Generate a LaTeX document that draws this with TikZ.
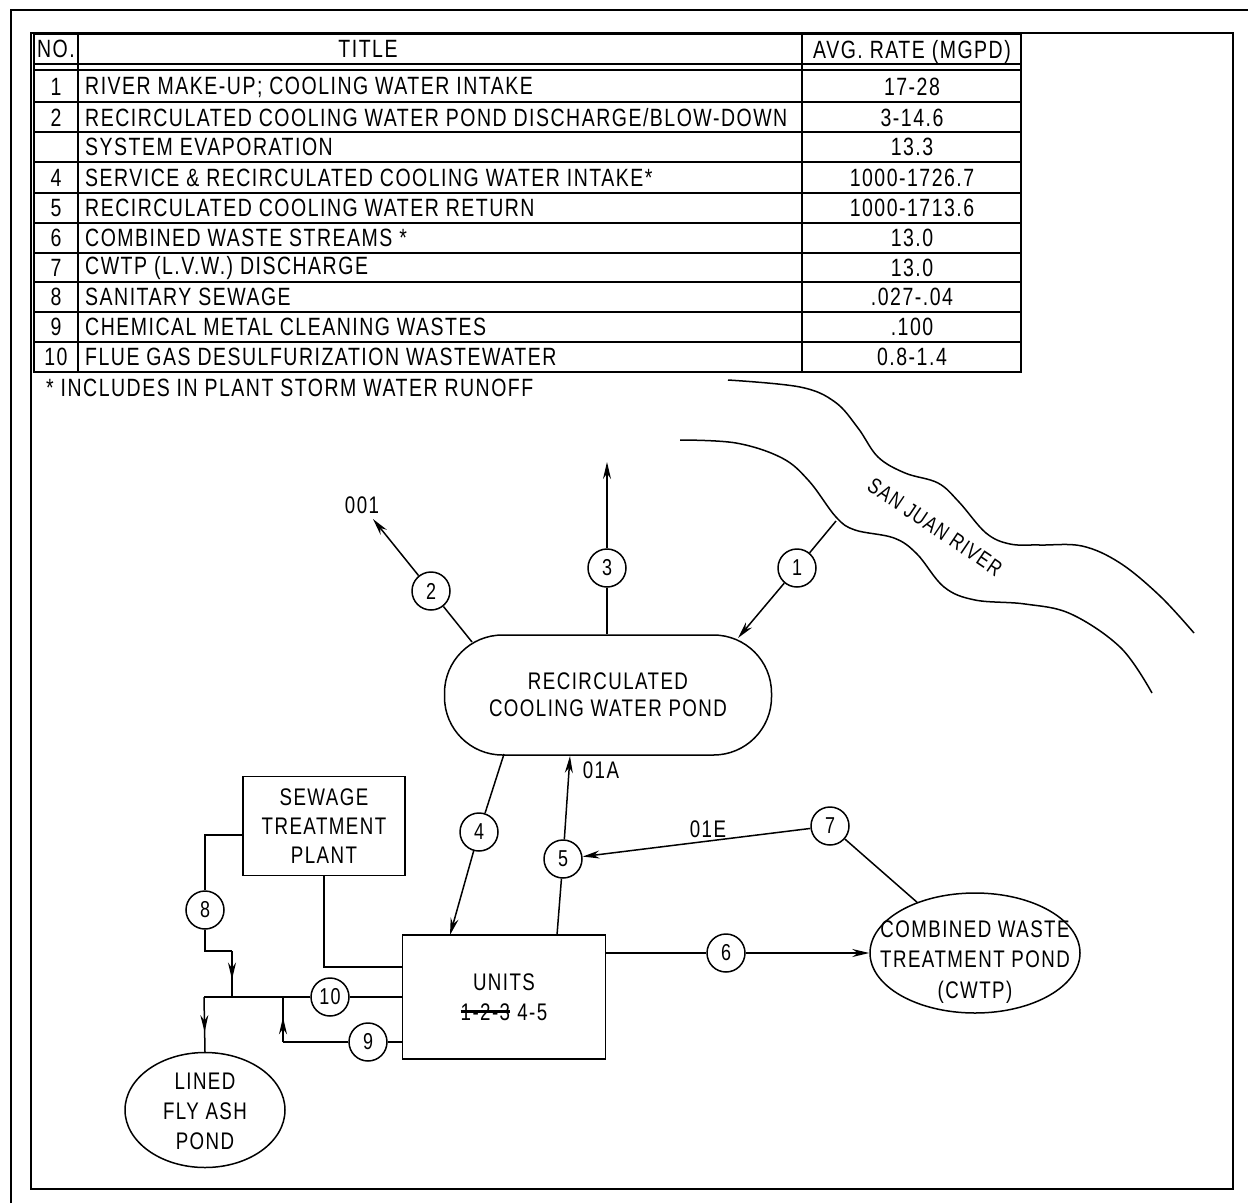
\documentclass[tikz,border=0pt]{standalone}
\usepackage{fontspec}
\setmainfont{Liberation Sans}[FakeStretch=0.78,LetterSpace=6]
\usetikzlibrary{arrows.meta,shapes.geometric,decorations.markings}
\newcommand\strk[1]{\setbox0\hbox{#1}\rlap{\rule[0.32em]{\wd0}{2.6pt}}\box0}
\tikzset{
  ln/.style={line width=1.5pt},
  tbl/.style={line width=1.7pt},
  num/.style={circle, draw, line width=1.5pt, minimum size=38pt, inner sep=0pt, font=\fontsize{23}{23}\selectfont},
  lbl/.style={align=center, inner sep=0pt, font=\fontsize{24}{29}\selectfont},
  ttxt/.style={inner sep=0pt, font=\fontsize{25}{25}\selectfont},
  tip/.style={-{Stealth[length=17pt,width=8pt]}},
  midarr/.style={postaction=decorate, decoration={markings, mark=at position #1 with {\arrow{Stealth[length=17pt,width=8pt]}}}},
}
\begin{document}
\begin{tikzpicture}[x=1pt,y=-1pt]
\useasboundingbox (0,0) rectangle (1248,1203);
% frames
\draw[line width=2.5pt] (11,1203) -- (11,10) -- (1248,10);
\draw[line width=1.5pt] (31,33) rectangle (1233,1189);
% table grid
\draw[tbl] (34,34) rectangle (1021,372);
\foreach \yy in {64,70,102,132,162,193,223,253,282,312,342} \draw[tbl] (34,\yy) -- (1021,\yy);
\draw[tbl] (78,34) -- (78,372);
\draw[tbl] (802,34) -- (802,372);
% header
\node[ttxt] (hno) at (56,49) {NO.};
\node[ttxt] (htitle) at (368,49) {TITLE};
\node[ttxt] (hrate) at (912,52) {AVG. RATE (MGPD)};
% rows
\foreach \n/\yy/\t/\r in {
  1/87/{RIVER MAKE-UP; COOLING WATER INTAKE}/{17-28},
  2/118/{RECIRCULATED COOLING WATER POND DISCHARGE/BLOW-DOWN}/{3-14.6},
  /147/{SYSTEM EVAPORATION}/{13.3},
  4/178/{SERVICE \& RECIRCULATED COOLING WATER INTAKE*}/{1000-1726.7},
  5/208/{RECIRCULATED COOLING WATER RETURN}/{1000-1713.6},
  6/238/{COMBINED WASTE STREAMS *}/{13.0},
  7/268/{CWTP (L.V.W.) DISCHARGE}/{13.0},
  8/297/{SANITARY SEWAGE}/{.027-.04},
  9/327/{CHEMICAL METAL CLEANING WASTES}/{.100},
  10/357/{FLUE GAS DESULFURIZATION WASTEWATER}/{0.8-1.4}} {
  \node[ttxt] (no\yy) at (56,\yy) {\n};
  \node[ttxt, anchor=west] (ti\yy) at (85,\yy) {\t};
  \node[ttxt] (ra\yy) at (912,\yy) {\r};
}
\node[ttxt, anchor=west] (foot) at (46,388) {* INCLUDES IN PLANT STORM WATER RUNOFF};
% river
\draw[ln] plot[smooth, tension=0.6] coordinates {(728,380) (800,387) (835,402) (858,428) (878,457) (905,473) (938,483) (959,502) (986,533) (1010,544) (1040,545) (1082,546) (1120,563) (1160,596) (1194,633)};
\draw[ln] plot[smooth, tension=0.6] coordinates {(680,440) (736,443) (782,458) (809,481) (836,517) (855,530) (894,538) (917,554) (944,587) (975,600) (1025,604) (1071,614) (1121,648) (1152,693)};
\node[lbl, rotate=-34, font=\fontsize{22}{22}\selectfont] (river) at (935,527) {SAN JUAN RIVER};
% main nodes
\node[draw, ln, rounded corners=58pt, minimum width=327pt, minimum height=120pt, align=center, font=\fontsize{24}{27}\selectfont] (pond) at (608,695) {RECIRCULATED\\COOLING WATER POND};
\node[draw, ln, minimum width=162pt, minimum height=99pt, lbl] (sew) at (324,826) {SEWAGE\\TREATMENT\\PLANT};
\node[draw, ln, minimum width=203pt, minimum height=124pt, lbl, font=\fontsize{24}{30}\selectfont] (units) at (504,997) {UNITS\\\strk{1-2-3}\hspace{0.3em}4-5};
\node[draw, ln, ellipse, minimum width=210pt, minimum height=120pt] (cwtp) at (975,953) {};
\node[lbl, font=\fontsize{24}{30.5}\selectfont] (cwtpt) at (975,962) {COMBINED WASTE\\TREATMENT POND\\(CWTP)};
\node[draw, ln, ellipse, minimum width=160pt, minimum height=115pt] (fly) at (205,1110) {};
\node[lbl, font=\fontsize{24}{30}\selectfont] (flyt) at (205,1111) {LINED\\FLY ASH\\POND};
% numbered circles
\node[num] (c1) at (797,568) {1};
\node[num] (c2) at (431,591) {2};
\node[num] (c3) at (607,568) {3};
\node[num] (c4) at (479,832) {4};
\node[num] (c5) at (563,859) {5};
\node[num] (c6) at (726,953) {6};
\node[num] (c7) at (830,826) {7};
\node[num] (c8) at (205,910) {8};
\node[num] (c9) at (368,1042) {9};
\node[num] (c10) at (330,997) {10};
% labels
\node[lbl] (l001) at (362,505) {001};
\node[lbl] (l01a) at (601,770) {01A};
\node[lbl] (l01e) at (708,829) {01E};
% coordinates
\coordinate (e3) at (607,462);
\coordinate (e2) at (373,519);
\coordinate (p1) at (738,638);
\coordinate (p2) at (472,642);
\coordinate (p4) at (504,754);
\coordinate (p5) at (570,756);
\coordinate (r1) at (836,521);
\coordinate (u4) at (450,935);
\coordinate (u5) at (557,935);
\coordinate (uS) at (403,967);
\coordinate (s8) at (243,835);
\coordinate (k8) at (232,951);
\coordinate (j8) at (232,997);
\coordinate (jL) at (204,997);
\coordinate (k9) at (283,1042);
\coordinate (j9) at (283,997);
% connectors
\draw[ln] (pond.north -| c3) -- (c3);
\draw[ln,tip] (c3) -- (e3);
\draw[ln] (p2) -- (c2);
\draw[ln,tip] (c2) -- (e2);
\draw[ln] (r1) -- (c1);
\draw[ln,tip] (c1) -- (p1);
\draw[ln] (p4) -- (c4);
\draw[ln,tip] (c4) -- (u4);
\draw[ln] (u5) -- (c5);
\draw[ln,tip] (c5) -- (p5);
\draw[ln,tip] (c7) -- (c5);
\draw[ln] (c7) -- (cwtp);
\draw[ln] (units.east |- c6) -- (c6);
\draw[ln,tip] (c6) -- (cwtp);
\draw[ln] (sew.south) |- (uS);
\draw[ln] (s8) -| (c8);
\draw[ln] (c8) |- (k8);
\draw[ln,midarr=0.62] (k8) -- (j8);
\draw[ln] (jL) -- (c10);
\draw[ln] (c10) -- (units.west |- c10);
\draw[ln,midarr=0.64] (jL) -- (fly.north);
\draw[ln] (units.west |- c9) -- (c9);
\draw[ln] (c9) -- (k9);
\draw[ln,midarr=0.55] (k9) -- (j9);
\end{tikzpicture}
\end{document}
